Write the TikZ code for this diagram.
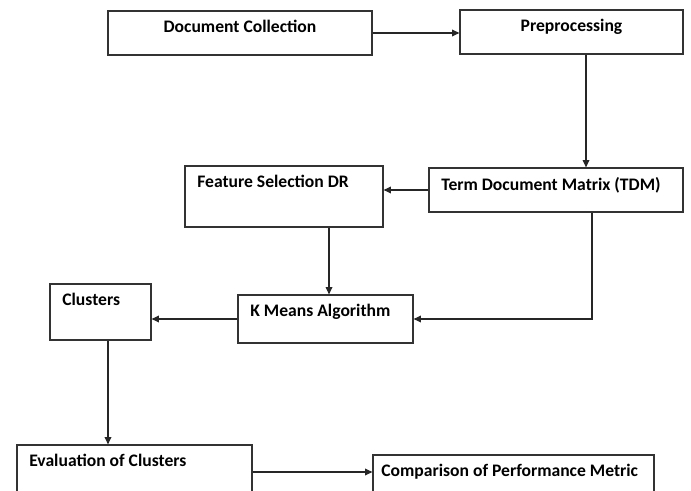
\documentclass[tikz,border=0pt]{standalone}
\usepackage{fontspec}
\setmainfont{Carlito}
\usepackage{tikz}
\usetikzlibrary{arrows.meta,positioning,calc}

\begin{document}
\begin{tikzpicture}[x=0.75pt, y=-0.75pt, >={Triangle[length=5.5pt,width=5pt]},
  blk/.style={draw=black!80, line width=0.9pt, rectangle, inner sep=0pt},
  midtxt/.style={font=\bfseries\fontsize{13.2}{15}\selectfont, inner sep=0pt, anchor=north, yshift=-7pt},
  lfttxt/.style={font=\bfseries\fontsize{13.2}{15}\selectfont, inner sep=0pt, anchor=north west, xshift=9.5pt, yshift=-7pt},
  line/.style={draw=black!85, line width=0.9pt}]
\useasboundingbox (0,0) rectangle (691,491);
\clip (0,0) rectangle (691,491);
\node[blk, minimum width=198pt, minimum height=33pt, label={[midtxt]north:Document Collection}] (doc) at (240,33) {};
\node[blk, minimum width=167.25pt, minimum height=33pt, label={[midtxt]north:Preprocessing}] (prep) at (571.5,32) {};
\node[blk, minimum width=190.5pt, minimum height=33pt, label={[lfttxt]north west:Term Document Matrix (TDM)}] (tdm) at (556,190) {};
\node[blk, minimum width=148.5pt, minimum height=45.75pt, label={[lfttxt]north west:Feature Selection DR}] (fs) at (284,196.5) {};
\node[blk, minimum width=131.25pt, minimum height=36pt, label={[lfttxt]north west:K Means Algorithm}] (km) at (325.5,319) {};
\node[blk, minimum width=75.75pt, minimum height=42pt, label={[lfttxt]north west:Clusters}] (cl) at (100.5,312) {};
\node[blk, minimum width=176.25pt, minimum height=52.5pt, label={[lfttxt]north west:Evaluation of Clusters}] (ev) at (134.5,480) {};
\node[blk, minimum width=210.75pt, minimum height=45pt, label={[lfttxt, xshift=-3pt]north west:Comparison of Performance Metric}] (cmp) at (513.5,485) {};
\coordinate (prepout) at ($(prep.south)+(14.5,0)$);
\coordinate (tdmout) at ($(tdm.south)+(36,0)$);
\coordinate (fsout) at ($(fs.south)+(45,0)$);
\coordinate (clout) at ($(cl.south)+(7.5,0)$);
\coordinate (evout) at ($(ev.east)+(0,-8)$);
\draw[line, ->] (doc.east) -- (doc.east -| prep.west);
\draw[line, ->] (prepout) -- (prepout |- tdm.north);
\draw[line, ->] (tdm.west) -- (tdm.west -| fs.east);
\draw[line, ->] (fsout) -- (fsout |- km.north);
\draw[line, ->] (tdmout) |- (km.east);
\draw[line, ->] (km.west) -- (km.west -| cl.east);
\draw[line, ->] (clout) -- (clout |- ev.north);
\draw[line, ->] (evout) -- (evout -| cmp.west);
\end{tikzpicture}
\end{document}
